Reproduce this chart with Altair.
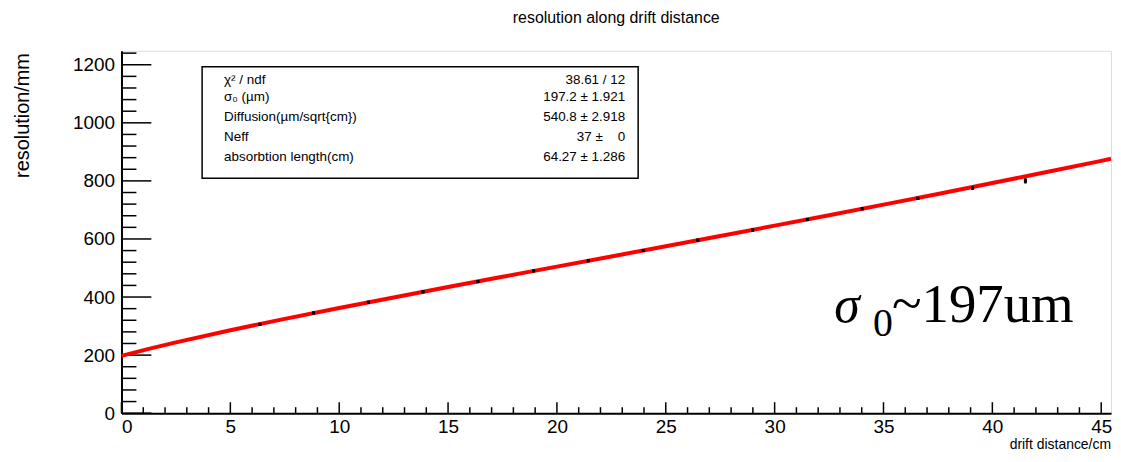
import altair as alt
import pandas as pd

# ---- data ----
drift_cm = [6.36, 8.82, 11.34, 13.85, 16.37, 18.93, 21.44, 23.96, 26.47, 28.99,
            31.50, 34.02, 36.58, 39.09, 41.52]
resolution = [306, 345, 382, 418, 453, 490, 525, 560, 596, 631, 667, 704, 740, 775, 800]
res_err = [5, 5, 5, 5, 5, 5, 5, 5, 5, 5, 5, 5, 5, 6, 9]

fit_x = [0, 1.25, 2.5, 5, 7.5, 10, 12.5, 15, 17.5, 20, 22.5, 25, 27.5, 30, 32.5,
         35, 37.5, 40, 42.5, 45, 45.45]
fit_y = [197.2, 221.3, 243.8, 285.7, 324.8, 362.3, 398.6, 434.3, 469.6, 504.7, 539.7,
         574.9, 610.2, 645.8, 681.8, 718.2, 755.1, 792.5, 830.5, 869.1, 876.1]

x_major = [0, 5, 10, 15, 20, 25, 30, 35, 40, 45]
x_minor = [v for v in range(0, 46) if v % 5 != 0]
y_major = [0, 200, 400, 600, 800, 1000, 1200]
y_minor = [v for v in range(0, 1241, 40) if v % 200 != 0]

stat_labels = ["χ² / ndf", "σ₀ (µm)", "Diffusion(µm/sqrt{cm})", "Neff", "absorbtion length(cm)"]
stat_values = ["38.61 / 12", "197.2 ± 1.921", "540.8 ± 2.918", "37 ±\u00a0\u00a0\u00a0\u00a00", "64.27 ± 1.286"]

title_text = "resolution along drift distance"
x_title = "drift distance/cm"
y_title = "resolution/mm"

W, H = 994, 364
XMAX, YMAX = 45.45, 1248
ROOT_FONT = "Liberation Sans"

xs = alt.Scale(domain=[0, XMAX], nice=False, zero=False)
ys = alt.Scale(domain=[0, YMAX], nice=False, zero=False)

pts = pd.DataFrame({"x": drift_cm, "y": resolution, "e": res_err})
pts["lo"] = pts["y"] - pts["e"]
pts["hi"] = pts["y"] + pts["e"]
fit = pd.DataFrame({"x": fit_x, "y": fit_y})

base_axes = alt.Chart(pd.DataFrame({"x": [0], "y": [0]})).mark_point(opacity=0).encode(
    x=alt.X("x:Q", scale=xs, axis=alt.Axis(values=x_major, ticks=False, grid=False, format="d",
                                           title=None, labelFontSize=19, labelFont=ROOT_FONT,
                                           labelPadding=4, domainWidth=2, domainColor="black",
                                           labelColor="black")),
    y=alt.Y("y:Q", scale=ys, axis=alt.Axis(values=y_major, ticks=False, grid=False, format="d",
                                           title=None, labelFontSize=19, labelFont=ROOT_FONT,
                                           labelPadding=7, domainWidth=2, domainColor="black",
                                           labelColor="black")),
)

def xticks(vals, length):
    return alt.Chart(pd.DataFrame({"x": vals})).mark_rule(color="black", strokeWidth=1.5).encode(
        x=alt.X("x:Q", scale=xs), y=alt.value(H), y2=alt.value(H - length))

def yticks(vals, length):
    return alt.Chart(pd.DataFrame({"y": vals})).mark_rule(color="black", strokeWidth=1.5).encode(
        y=alt.Y("y:Q", scale=ys), x=alt.value(0), x2=alt.value(length))

fit_line = alt.Chart(fit).mark_line(color="#ff0000", strokeWidth=4).encode(
    x=alt.X("x:Q", scale=xs), y=alt.Y("y:Q", scale=ys))

err = alt.Chart(pts).mark_rule(color="black", strokeWidth=2.5).encode(
    x=alt.X("x:Q", scale=xs), y=alt.Y("lo:Q", scale=ys), y2="hi:Q")
dots = alt.Chart(pts).mark_square(color="black", size=10, opacity=1).encode(
    x=alt.X("x:Q", scale=xs), y=alt.Y("y:Q", scale=ys))

def txt(s, x, y, **kw):
    return alt.Chart(pd.DataFrame({"t": [s]})).mark_text(**kw).encode(
        text="t:N", x=alt.value(x), y=alt.value(y))

layers = [base_axes, xticks(x_minor, 6), xticks(x_major, 11), yticks(y_minor, 15), yticks(y_major, 30),
          fit_line, err, dots]

# stats box
box = alt.Chart(pd.DataFrame({"a": [0]})).mark_rect(fill="white", stroke="black", strokeWidth=1.5).encode(
    x=alt.value(81), x2=alt.value(519), y=alt.value(16), y2=alt.value(128))
layers.append(box)
row_y = [29, 46, 66, 87, 107]
for lab, val, ry in zip(stat_labels, stat_values, row_y):
    layers.append(txt(lab, 103, ry, align="left", baseline="middle", font=ROOT_FONT, fontSize=13.5, color="black"))
    layers.append(txt(val, 506, ry, align="right", baseline="middle", font=ROOT_FONT, fontSize=13.5, color="black"))

# titles
layers.append(txt(title_text, 497, -33, align="center", baseline="middle", font=ROOT_FONT, fontSize=16, color="black"))
layers.append(txt(x_title, 994, 403, align="right", baseline="bottom", font=ROOT_FONT, fontSize=14, color="black"))
layers.append(txt(y_title, -99, 65, align="center", baseline="middle", font=ROOT_FONT, fontSize=20,
                  angle=270, color="black"))

# annotation
layers.append(txt("σ", 716, 272, align="left", baseline="alphabetic", font="Liberation Serif", fontSize=52,
                  fontStyle="italic", color="black"))
layers.append(txt("0", 755, 286, align="left", baseline="alphabetic", font="Liberation Serif", fontSize=40,
                  color="black"))
layers.append(txt("~197um", 774, 272, align="left", baseline="alphabetic", font="Liberation Serif", fontSize=55,
                  color="black"))

chart = alt.layer(*layers).properties(
    width=W, height=H,
    autosize=alt.AutoSizeParams(type="none"),
    padding={"left": 114, "top": 42, "right": 2, "bottom": 40},
).configure_view(stroke="black", strokeWidth=1.2).configure(background="white")

chart.save("out.html", embed_options={"renderer": "svg", "actions": False})
